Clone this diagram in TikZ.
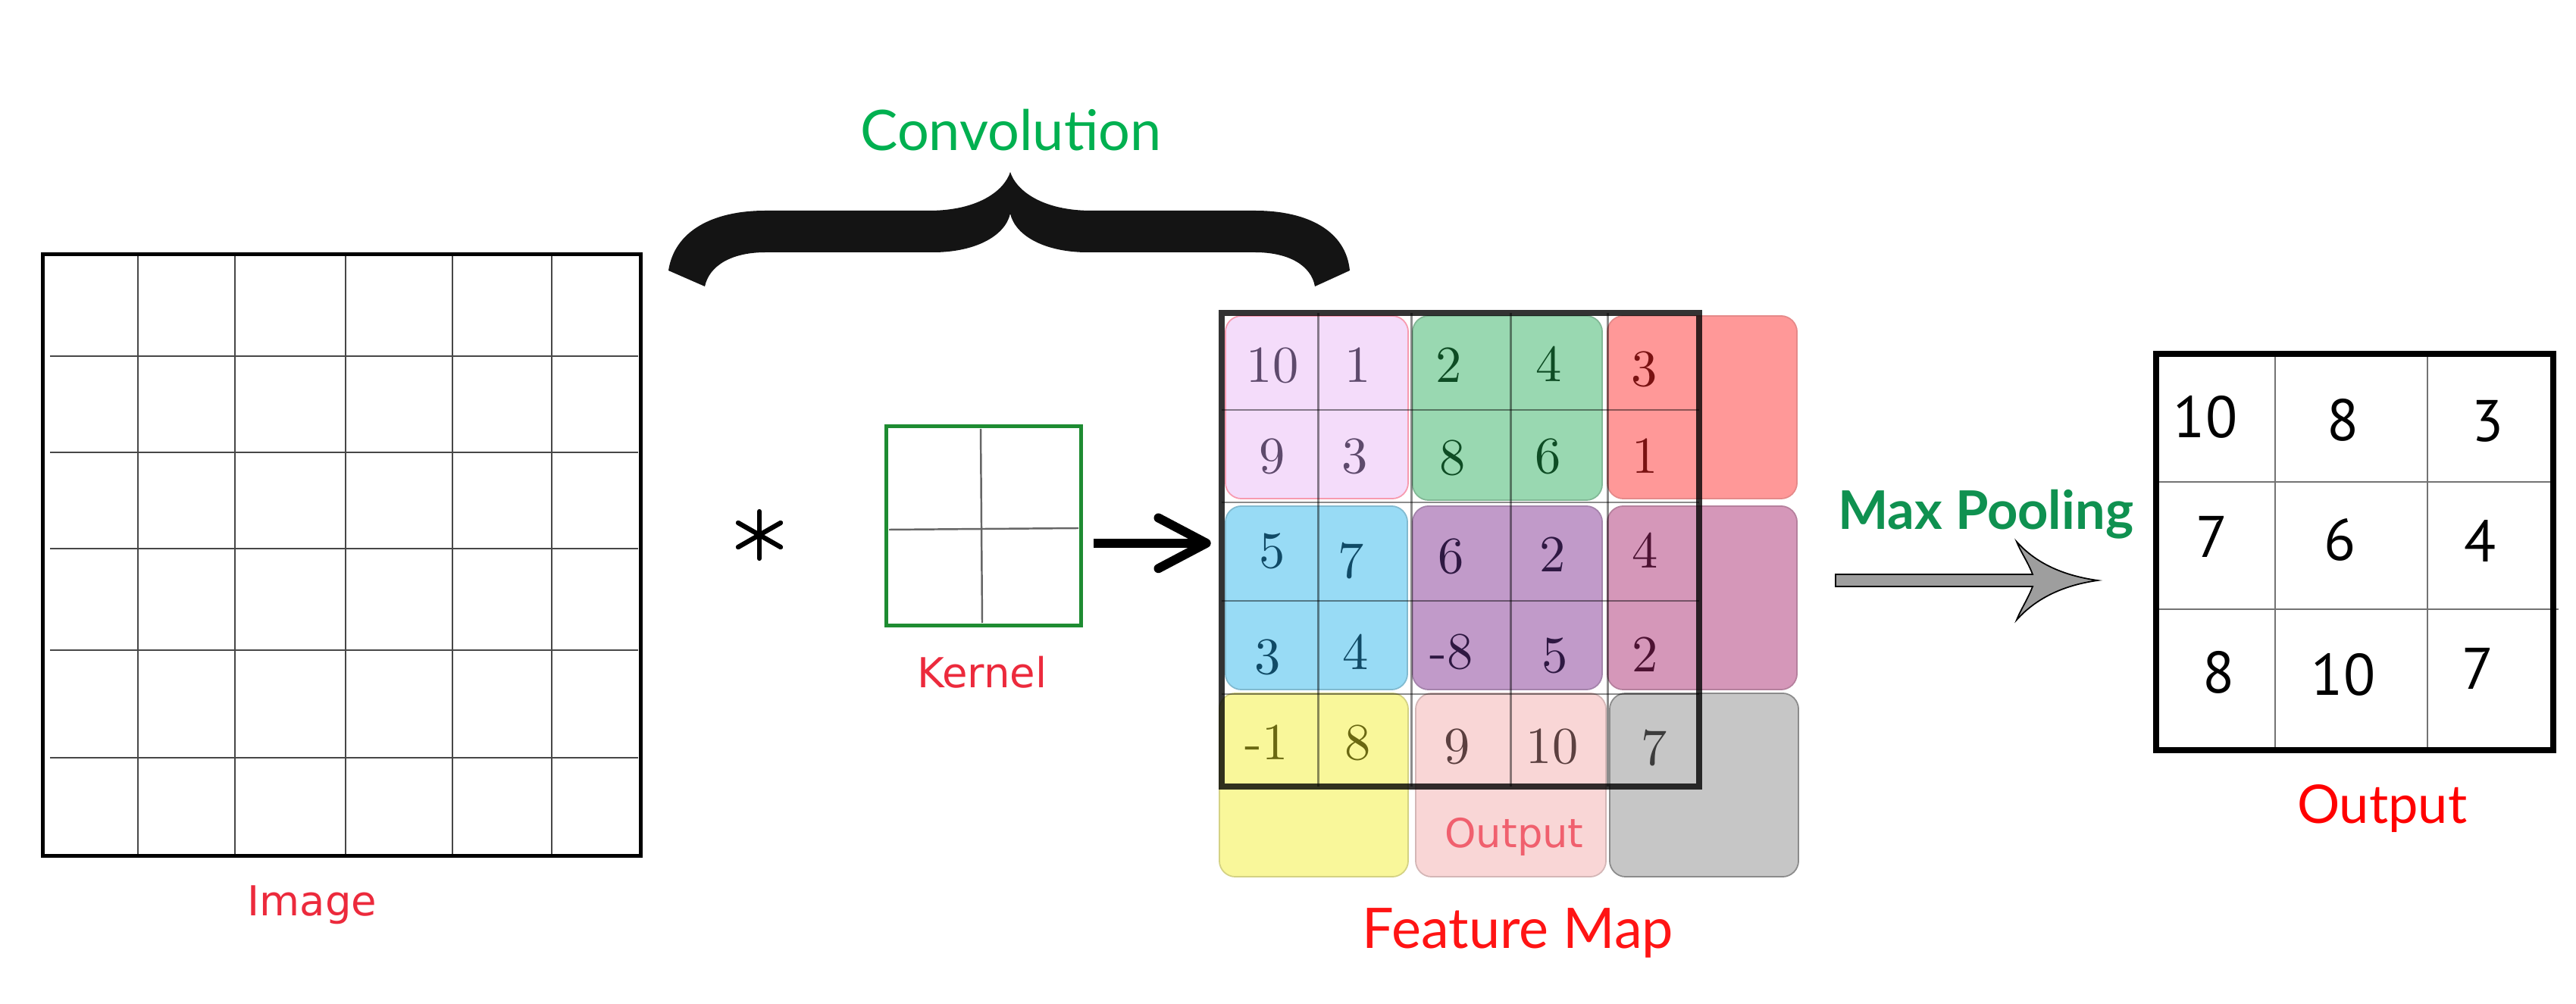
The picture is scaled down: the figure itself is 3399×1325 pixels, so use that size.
\documentclass[tikz,border=0pt]{standalone}
\usepackage{fontspec}
\usetikzlibrary{arrows.meta}
\newfontfamily\lblfont{DejaVu Sans}
\newfontfamily\cfont{Lato}
\newfontfamily\nfont{PT Sans}
\newfontfamily\fmfont{lmroman10-regular}[Extension=.otf]
\definecolor{lblred}{HTML}{EC2A3C}
\definecolor{cgreen}{HTML}{00B050}
\definecolor{mpgreen}{HTML}{0F9150}
\definecolor{kgreen}{HTML}{1E8C32}
\definecolor{fred}{HTML}{FF1414}
\definecolor{tpink}{HTML}{F4DCFA}
\definecolor{tgreen}{HTML}{99D8B1}
\definecolor{tred}{HTML}{FF9898}
\definecolor{tblue}{HTML}{98DBF5}
\definecolor{tpurple}{HTML}{C19AC9}
\definecolor{tmauve}{HTML}{D597B9}
\definecolor{tyellow}{HTML}{F9F79A}
\definecolor{tlpink}{HTML}{F9D6D6}
\definecolor{tgrey}{HTML}{C6C6C6}
\definecolor{npink}{HTML}{5E4A6C}
\definecolor{ngreen}{HTML}{0E4C24}
\definecolor{nred}{HTML}{7A1212}
\definecolor{nblue}{HTML}{104A66}
\definecolor{npurple}{HTML}{2E1842}
\definecolor{nmauve}{HTML}{4C1232}
\definecolor{nyellow}{HTML}{6A6812}
\definecolor{nlpink}{HTML}{5C4040}
\definecolor{ngrey}{HTML}{3C3C3C}
\definecolor{outpink}{HTML}{F0606E}
\tikzset{
  gridln/.style={draw=black!72, line width=0.8pt},
  fmgrid/.style={draw=black, opacity=0.45, line width=0.85pt},
  thinln/.style={draw=black!55, line width=0.45pt},
  lbl/.style={font=\lblfont\fontsize{15.5}{18}\selectfont, text=lblred, inner sep=0pt},
  fmnum/.style={font=\fmfont\fontsize{19.5}{22}\selectfont, inner sep=0pt},
  outnum/.style={font=\nfont\fontsize{22}{26}\selectfont, inner sep=0pt},
  tilebox/.style={rounded corners=6pt, line width=0.5pt, inner sep=0pt},
  boxnode/.style={inner sep=0pt, outer sep=0pt},
}
\begin{document}
\begin{tikzpicture}[x=0.01cm, y=-0.01cm]
\useasboundingbox (0,0) rectangle (3399,1325);
\fill[white] (0,0) rectangle (3399,1325);

% ---------------- Image grid ----------------
\foreach \x in {182,310,456,597,728} \draw[gridln] (\x,338) -- (\x,1127);
\foreach \y in {470,597,724,858,1000} \draw[gridln] (66,\y) -- (842,\y);
\node[boxnode, draw=black, line width=1.35pt, minimum width=7.88cm, minimum height=7.93cm] (img) at (451,732.5) {};
\node[lbl] (imglbl) at (412,1194) {Image};

% ---------------- Brace + Convolution ----------------
\fill[black!92] (882,357) .. controls (890,305) and (940,278) .. (1010,278)
  -- (1226,278) .. controls (1290,278) and (1325,252) .. (1333,227)
  .. controls (1341,252) and (1376,278) .. (1440,278)
  -- (1656,278) .. controls (1726,278) and (1776,305) .. (1781,357)
  -- (1735,378) .. controls (1730,350) and (1700,333) .. (1656,333)
  -- (1435,333) .. controls (1380,333) and (1340,312) .. (1333,282)
  .. controls (1326,312) and (1286,333) .. (1231,333)
  -- (1010,333) .. controls (966,333) and (936,350) .. (930,378) -- cycle;
\node[font=\cfont\fontsize{21}{25}\selectfont, text=cgreen, inner sep=0pt] (conv) at (1334,172) {Convolution};

% ---------------- Asterisk ----------------
\coordinate (ast) at (1002,706);
\draw[line width=1.8pt, line cap=round] (ast) ++(0,-31) -- ++(0,62);
\draw[line width=1.8pt, line cap=round] (ast) ++(-28,-16) -- ++(56,32);
\draw[line width=1.8pt, line cap=round] (ast) ++(-28,16) -- ++(56,-32);

% ---------------- Kernel ----------------
\draw[draw=black!60, line width=0.7pt] (1294,566) -- (1296,822);
\draw[draw=black!60, line width=0.7pt] (1173,699) -- (1423,697);
\node[boxnode, draw=kgreen, line width=1.4pt, minimum width=2.56cm, minimum height=2.62cm] (kern) at (1298,694) {};
\node[lbl] (kernlbl) at (1296,887) {Kernel};

% ---------------- Feature map tiles ----------------
\node[tilebox, fill=tpink, draw=tpink!70!red, minimum width=2.41cm, minimum height=2.41cm] (t11) at (1737.5,537.5) {};
\node[tilebox, fill=tgreen, draw=tgreen!85!black, minimum width=2.50cm, minimum height=2.43cm] (t12) at (1989,538.5) {};
\node[tilebox, fill=tred, draw=tred!90!black, minimum width=2.50cm, minimum height=2.41cm] (t13) at (2246,537.5) {};
\node[tilebox, fill=tblue, draw=tblue!85!black, minimum width=2.40cm, minimum height=2.42cm] (t21) at (1737,789) {};
\node[tilebox, fill=tpurple, draw=tpurple!85!black, minimum width=2.50cm, minimum height=2.42cm] (t22) at (1989,789) {};
\node[tilebox, fill=tmauve, draw=tmauve!85!black, minimum width=2.50cm, minimum height=2.42cm] (t23) at (2246,789) {};
\node[tilebox, fill=tyellow, draw=tyellow!85!black, minimum width=2.49cm, minimum height=2.42cm] (t31) at (1733.5,1036) {};
\node[tilebox, fill=tlpink, draw=tlpink!85!black, minimum width=2.51cm, minimum height=2.42cm] (t32) at (1993.5,1036) {};
\node[tilebox, fill=tgrey, draw=tgrey!70!black, minimum width=2.49cm, minimum height=2.42cm] (t33) at (2248.5,1036) {};

% feature map grid
\foreach \x in {1739,1862,1993,2121} \draw[fmgrid] (\x,413) -- (\x,1038);
\foreach \y in {541,663,793,916} \draw[fmgrid] (1612,\y) -- (2242,\y);
\node[boxnode, draw=black, draw opacity=0.8, line width=2.3pt, minimum width=6.30cm, minimum height=6.25cm] (fmap) at (1927,725.5) {};

% numbers
\node[fmnum, text=npink] (n11) at (1679,482) {10};
\node[fmnum, text=npink] (n12) at (1792,482) {1};
\node[fmnum, text=ngreen] (n13) at (1912,482) {2};
\node[fmnum, text=ngreen] (n14) at (2044,480) {4};
\node[fmnum, text=nred] (n15) at (2170,487) {3};
\node[fmnum, text=npink] (n21) at (1679,602) {9};
\node[fmnum, text=npink] (n22) at (1788,602) {3};
\node[fmnum, text=ngreen] (n23) at (1917,604) {8};
\node[fmnum, text=ngreen] (n24) at (2043,602) {6};
\node[fmnum, text=nred] (n25) at (2171,602) {1};
\node[fmnum, text=nblue] (n31) at (1679,727) {5};
\node[fmnum, text=nblue] (n32) at (1783,740) {7};
\node[fmnum, text=npurple] (n33) at (1915,734) {6};
\node[fmnum, text=npurple] (n34) at (2049,732) {2};
\node[fmnum, text=nmauve] (n35) at (2171,726) {4};
\node[fmnum, text=nblue] (n41) at (1673,867) {3};
\node[fmnum, text=nblue] (n42) at (1789,860) {4};
\node[fmnum, text=npurple] (n43) at (1915,860) {-8};
\node[fmnum, text=npurple] (n44) at (2052,865) {5};
\node[fmnum, text=nmauve] (n45) at (2171,864) {2};
\node[fmnum, text=nyellow] (n51) at (1671,980) {-1};
\node[fmnum, text=nyellow] (n52) at (1792,980) {8};
\node[fmnum, text=nlpink] (n53) at (1923,985) {9};
\node[fmnum, text=nlpink] (n54) at (2048,985) {10};
\node[fmnum, text=ngrey] (n55) at (2183,987) {7};

\node[font=\lblfont\fontsize{15}{18}\selectfont, text=outpink, inner sep=0pt] (fmout) at (1998,1104) {Output};
\node[font=\cfont\fontsize{21}{25}\selectfont, text=fred, inner sep=0pt] (fmlbl) at (2003,1231) {Feature Map};

% kernel -> feature map arrow
\draw[line width=3.4pt, -{Straight Barb[length=18pt,width=19pt,round]}, shorten <=4.8pt, shorten >=4pt]
  ([yshift=-6.5pt]kern.east) -- ([yshift=-6.5pt]kern.east -| fmap.west);

% ---------------- Max pooling arrow ----------------
\node[font=\cfont\bfseries\fontsize{20}{24}\selectfont, text=mpgreen, inner sep=0pt] (mp) at (2620,679) {Max Pooling};
\filldraw[fill=black!38, draw=black, line width=0.5pt]
  (2422,758) -- (2682,758) .. controls (2676,742) and (2666,728) .. (2661,715)
  .. controls (2688,745) and (2725,760) .. (2768,766)
  .. controls (2725,772) and (2688,788) .. (2661,818)
  .. controls (2666,805) and (2676,790) .. (2682,774) -- (2422,774) -- cycle;

% ---------------- Output grid ----------------
\draw[thinln] (3002,470) -- (3002,987);
\draw[thinln] (3203,470) -- (3203,987);
\draw[thinln] (2848,636) -- (3366,636);
\draw[thinln] (2848,804) -- (3376,804);
\node[boxnode, draw=black, line width=2.3pt, minimum width=5.24cm, minimum height=5.23cm] (outgrid) at (3107,728.5) {};
\node[outnum] (o11) at (2910,550) {10};
\node[outnum] (o12) at (3092,554) {8};
\node[outnum] (o13) at (3283,556) {3};
\node[outnum] (o21) at (2919,708) {7};
\node[outnum] (o22) at (3088,712) {6};
\node[outnum] (o23) at (3273,714) {4};
\node[outnum] (o31) at (2928,887) {8};
\node[outnum] (o32) at (3092,890) {10};
\node[outnum] (o33) at (3270,882) {7};
\node[font=\cfont\fontsize{20}{24}\selectfont, text=red, inner sep=0pt] (outlbl) at (3143,1067) {Output};
\end{tikzpicture}
\end{document}
